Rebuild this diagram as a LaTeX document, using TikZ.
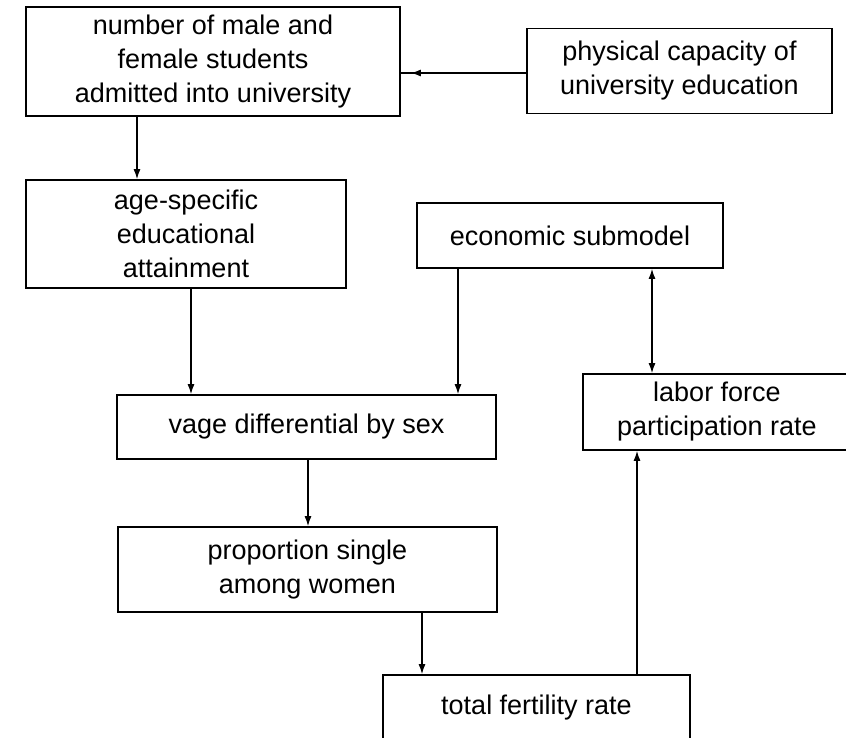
\documentclass[tikz,border=0pt]{standalone}
\usepackage{fontspec}
\setmainfont{Liberation Sans}
\usetikzlibrary{arrows.meta}
\begin{document}
\begin{tikzpicture}[x=1pt,y=-1pt,
  box/.style={draw, line width=1.7pt, rectangle, inner sep=0pt, align=center,
    font=\fontsize{27}{34}\selectfont},
  arr/.style={line width=1.3pt, -{Latex[length=10pt,width=7pt]}},
  darr/.style={line width=1.3pt, {Latex[length=10pt,width=7pt]}-{Latex[length=10pt,width=7pt]}},
  ln/.style={line width=1.3pt}]
\useasboundingbox (0,0) rectangle (846,738);
\clip (0,0) rectangle (846,738);
\fill[white] (0,0) rectangle (846,738);
\node[box, minimum width=374pt, minimum height=109pt] (b1) at (213,61.5)
  {number of male and\\female students\\admitted into university};
\node[box, minimum width=305pt, minimum height=85pt] (b2) at (679.5,71)
  {physical capacity of\\university education};
\node[box, minimum width=320pt, minimum height=108pt] (b3) at (186,234)
  {age-specific\\educational\\attainment};
\node[box, minimum width=306pt, minimum height=65pt] (b4) at (570,235.5)
  {economic submodel};
\node[box, minimum width=268pt, minimum height=76pt] (b5) at (717,412)
  {labor force\\participation rate};
\node[box, minimum width=379pt, minimum height=64pt] (b6) at (306.5,427)
  {vage differential by sex};
\node[box, minimum width=379pt, minimum height=85pt] (b7) at (307.5,569.5)
  {proportion single\\among women};
\node[box, minimum width=307pt, minimum height=66pt] (b8) at (536.5,708)
  {total fertility rate};
\coordinate (xa) at (137,0);
\coordinate (xb) at (191,0);
\coordinate (xc) at (458,0);
\coordinate (xd) at (652,0);
\coordinate (xe) at (308,0);
\coordinate (xf) at (422,0);
\coordinate (xg) at (637,0);
\coordinate (ya) at (0,73);
% b2 -> b1
\draw[ln] (b2.west |- ya) -- (b1.east |- ya);
\draw[arr] (b2.west |- ya) -- ([xshift=10pt]b1.east |- ya);
% vertical arrows
\draw[arr] (b1.south -| xa) -- (b3.north -| xa);
\draw[arr] (b3.south -| xb) -- (b6.north -| xb);
\draw[arr] (b4.south -| xc) -- (b6.north -| xc);
\draw[darr] (b4.south -| xd) -- (b5.north -| xd);
\draw[arr] (b6.south -| xe) -- (b7.north -| xe);
\draw[arr] (b7.south -| xf) -- (b8.north -| xf);
\draw[arr] (b8.north -| xg) -- (b5.south -| xg);
\end{tikzpicture}
\end{document}
